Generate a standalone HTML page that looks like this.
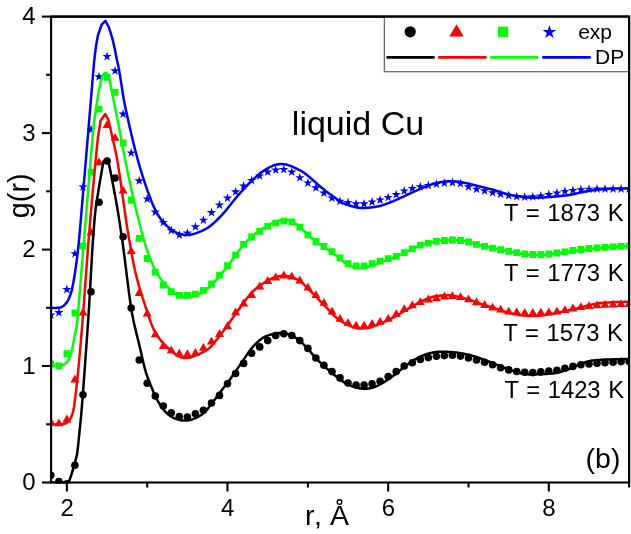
<!DOCTYPE html>
<html><head><meta charset="utf-8"><title>liquid Cu g(r)</title>
<style>
html,body{margin:0;padding:0;background:#fff;overflow:hidden}
body{width:631px;height:534px;position:relative;font-family:"Liberation Sans",sans-serif}
</style></head><body>
<svg width="631" height="534" viewBox="0 0 631 534" style="position:absolute;left:0;top:0;will-change:transform;transform:translateZ(0)">
<rect x="0" y="0" width="631" height="534" fill="#fff"/>
<defs><clipPath id="cp"><rect x="51.1" y="16.6" width="578.0" height="466.9"/></clipPath></defs>
<g clip-path="url(#cp)">
<g fill="#000000"><circle cx="50.8" cy="475.2" r="3.8"/><circle cx="58.9" cy="481.6" r="3.8"/><circle cx="66.9" cy="483.8" r="3.8"/><circle cx="74.9" cy="465.2" r="3.8"/><circle cx="83.0" cy="394.8" r="3.8"/><circle cx="91.0" cy="291.8" r="3.8"/><circle cx="99.0" cy="202.3" r="3.8"/><circle cx="107.1" cy="161.0" r="3.8"/><circle cx="115.1" cy="178.0" r="3.8"/><circle cx="123.1" cy="236.7" r="3.8"/><circle cx="131.2" cy="308.1" r="3.8"/><circle cx="139.2" cy="360.0" r="3.8"/><circle cx="147.2" cy="383.2" r="3.8"/><circle cx="155.3" cy="396.0" r="3.8"/><circle cx="163.3" cy="406.0" r="3.8"/><circle cx="171.3" cy="412.7" r="3.8"/><circle cx="179.3" cy="416.6" r="3.8"/><circle cx="187.4" cy="417.1" r="3.8"/><circle cx="195.4" cy="413.7" r="3.8"/><circle cx="203.4" cy="410.3" r="3.8"/><circle cx="211.5" cy="403.0" r="3.8"/><circle cx="219.5" cy="395.4" r="3.8"/><circle cx="227.5" cy="383.7" r="3.8"/><circle cx="235.6" cy="373.5" r="3.8"/><circle cx="243.6" cy="363.4" r="3.8"/><circle cx="251.6" cy="353.2" r="3.8"/><circle cx="259.7" cy="346.9" r="3.8"/><circle cx="267.7" cy="340.6" r="3.8"/><circle cx="275.7" cy="335.5" r="3.8"/><circle cx="283.8" cy="333.7" r="3.8"/><circle cx="291.8" cy="335.5" r="3.8"/><circle cx="299.8" cy="340.6" r="3.8"/><circle cx="307.9" cy="348.4" r="3.8"/><circle cx="315.9" cy="358.0" r="3.8"/><circle cx="323.9" cy="365.2" r="3.8"/><circle cx="332.0" cy="371.6" r="3.8"/><circle cx="340.0" cy="377.9" r="3.8"/><circle cx="348.0" cy="383.0" r="3.8"/><circle cx="356.1" cy="385.0" r="3.8"/><circle cx="364.1" cy="385.0" r="3.8"/><circle cx="372.1" cy="383.7" r="3.8"/><circle cx="380.1" cy="381.2" r="3.8"/><circle cx="388.2" cy="376.6" r="3.8"/><circle cx="396.2" cy="371.6" r="3.8"/><circle cx="404.2" cy="366.0" r="3.8"/><circle cx="412.3" cy="362.7" r="3.8"/><circle cx="420.3" cy="359.4" r="3.8"/><circle cx="428.3" cy="357.6" r="3.8"/><circle cx="436.4" cy="356.3" r="3.8"/><circle cx="444.4" cy="355.6" r="3.8"/><circle cx="452.4" cy="355.3" r="3.8"/><circle cx="460.5" cy="356.1" r="3.8"/><circle cx="468.5" cy="358.0" r="3.8"/><circle cx="476.5" cy="360.0" r="3.8"/><circle cx="484.6" cy="362.3" r="3.8"/><circle cx="492.6" cy="364.8" r="3.8"/><circle cx="500.6" cy="367.8" r="3.8"/><circle cx="508.7" cy="369.9" r="3.8"/><circle cx="516.7" cy="371.5" r="3.8"/><circle cx="524.7" cy="372.2" r="3.8"/><circle cx="532.8" cy="372.6" r="3.8"/><circle cx="540.8" cy="371.9" r="3.8"/><circle cx="548.8" cy="371.1" r="3.8"/><circle cx="556.9" cy="370.2" r="3.8"/><circle cx="564.9" cy="368.3" r="3.8"/><circle cx="572.9" cy="366.4" r="3.8"/><circle cx="580.9" cy="364.8" r="3.8"/><circle cx="589.0" cy="364.0" r="3.8"/><circle cx="597.0" cy="363.2" r="3.8"/><circle cx="605.0" cy="362.7" r="3.8"/><circle cx="613.1" cy="362.3" r="3.8"/><circle cx="621.1" cy="361.6" r="3.8"/><circle cx="629.1" cy="361.6" r="3.8"/></g>
<path fill="#ff0000" d="M50.8,417.1 L55.3,424.9 L46.3,424.9ZM58.9,418.4 L63.4,426.2 L54.4,426.2ZM66.9,414.6 L71.4,422.4 L62.4,422.4ZM74.9,374.6 L79.4,382.4 L70.4,382.4ZM83.0,307.8 L87.5,315.6 L78.5,315.6ZM91.0,227.8 L95.5,235.6 L86.5,235.6ZM99.0,157.4 L103.5,165.2 L94.5,165.2ZM107.1,120.0 L111.6,128.0 L102.6,128.0ZM115.1,132.9 L119.6,140.8 L110.6,140.8ZM123.1,185.8 L127.6,193.6 L118.6,193.6ZM131.2,246.2 L135.7,254.0 L126.7,254.0ZM139.2,288.1 L143.7,295.9 L134.7,295.9ZM147.2,308.6 L151.7,316.4 L142.7,316.4ZM155.3,329.4 L159.8,337.3 L150.8,337.3ZM163.3,341.1 L167.8,348.9 L158.8,348.9ZM171.3,345.4 L175.8,353.3 L166.8,353.3ZM179.3,348.8 L183.8,356.6 L174.8,356.6ZM187.4,349.2 L191.9,357.1 L182.9,357.1ZM195.4,348.1 L199.9,355.9 L190.9,355.9ZM203.4,342.9 L207.9,350.8 L198.9,350.8ZM211.5,336.7 L216.0,344.6 L207.0,344.6ZM219.5,329.1 L224.0,336.9 L215.0,336.9ZM227.5,321.4 L232.0,329.3 L223.0,329.3ZM235.6,307.4 L240.1,315.3 L231.1,315.3ZM243.6,298.6 L248.1,306.4 L239.1,306.4ZM251.6,290.1 L256.1,297.9 L247.1,297.9ZM259.7,281.6 L264.2,289.4 L255.2,289.4ZM267.7,276.1 L272.2,283.9 L263.2,283.9ZM275.7,272.6 L280.2,280.4 L271.2,280.4ZM283.8,270.6 L288.3,278.4 L279.3,278.4ZM291.8,271.6 L296.3,279.4 L287.3,279.4ZM299.8,275.6 L304.3,283.4 L295.3,283.4ZM307.9,282.7 L312.4,290.6 L303.4,290.6ZM315.9,290.2 L320.4,298.1 L311.4,298.1ZM323.9,297.9 L328.4,305.8 L319.4,305.8ZM332.0,306.8 L336.5,314.6 L327.5,314.6ZM340.0,313.9 L344.5,321.8 L335.5,321.8ZM348.0,318.2 L352.5,326.1 L343.5,326.1ZM356.1,320.8 L360.6,328.6 L351.6,328.6ZM364.1,320.8 L368.6,328.6 L359.6,328.6ZM372.1,318.9 L376.6,326.8 L367.6,326.8ZM380.1,316.9 L384.6,324.8 L375.6,324.8ZM388.2,313.9 L392.7,321.8 L383.7,321.8ZM396.2,309.2 L400.7,317.1 L391.7,317.1ZM404.2,304.2 L408.7,312.1 L399.7,312.1ZM412.3,300.4 L416.8,308.3 L407.8,308.3ZM420.3,297.2 L424.8,305.1 L415.8,305.1ZM428.3,294.6 L432.8,302.4 L423.8,302.4ZM436.4,293.4 L440.9,301.2 L431.9,301.2ZM444.4,291.7 L448.9,299.6 L439.9,299.6ZM452.4,291.2 L456.9,299.1 L447.9,299.1ZM460.5,292.2 L465.0,300.1 L456.0,300.1ZM468.5,294.4 L473.0,302.3 L464.0,302.3ZM476.5,297.4 L481.0,305.3 L472.0,305.3ZM484.6,300.1 L489.1,307.9 L480.1,307.9ZM492.6,302.8 L497.1,310.6 L488.1,310.6ZM500.6,304.7 L505.1,312.6 L496.1,312.6ZM508.7,306.7 L513.2,314.6 L504.2,314.6ZM516.7,307.4 L521.2,315.3 L512.2,315.3ZM524.7,307.9 L529.2,315.8 L520.2,315.8ZM532.8,307.9 L537.3,315.8 L528.3,315.8ZM540.8,307.8 L545.3,315.6 L536.3,315.6ZM548.8,307.4 L553.3,315.3 L544.3,315.3ZM556.9,306.7 L561.4,314.6 L552.4,314.6ZM564.9,305.2 L569.4,313.1 L560.4,313.1ZM572.9,303.6 L577.4,311.4 L568.4,311.4ZM580.9,302.2 L585.4,310.1 L576.4,310.1ZM589.0,301.2 L593.5,309.1 L584.5,309.1ZM597.0,300.4 L601.5,308.2 L592.5,308.2ZM605.0,299.9 L609.5,307.8 L600.5,307.8ZM613.1,299.6 L617.6,307.4 L608.6,307.4ZM621.1,299.2 L625.6,307.1 L616.6,307.1ZM629.1,299.2 L633.6,307.1 L624.6,307.1Z"/>
<path fill="#00ff00" d="M47.4,360.6h6.8v6.8h-6.8ZM55.5,362.4h6.8v6.8h-6.8ZM63.5,350.3h6.8v6.8h-6.8ZM71.5,309.6h6.8v6.8h-6.8ZM79.6,242.4h6.8v6.8h-6.8ZM87.6,168.9h6.8v6.8h-6.8ZM95.6,105.7h6.8v6.8h-6.8ZM103.7,74.0h6.8v6.8h-6.8ZM111.7,88.9h6.8v6.8h-6.8ZM119.7,139.6h6.8v6.8h-6.8ZM127.8,196.6h6.8v6.8h-6.8ZM135.8,234.9h6.8v6.8h-6.8ZM143.8,255.1h6.8v6.8h-6.8ZM151.9,268.8h6.8v6.8h-6.8ZM159.9,281.6h6.8v6.8h-6.8ZM167.9,288.2h6.8v6.8h-6.8ZM175.9,292.0h6.8v6.8h-6.8ZM184.0,292.0h6.8v6.8h-6.8ZM192.0,290.7h6.8v6.8h-6.8ZM200.0,286.9h6.8v6.8h-6.8ZM208.1,280.6h6.8v6.8h-6.8ZM216.1,271.7h6.8v6.8h-6.8ZM224.1,262.3h6.8v6.8h-6.8ZM232.2,251.4h6.8v6.8h-6.8ZM240.2,241.0h6.8v6.8h-6.8ZM248.2,233.6h6.8v6.8h-6.8ZM256.3,228.0h6.8v6.8h-6.8ZM264.3,222.9h6.8v6.8h-6.8ZM272.3,219.7h6.8v6.8h-6.8ZM280.4,217.8h6.8v6.8h-6.8ZM288.4,218.4h6.8v6.8h-6.8ZM296.4,223.8h6.8v6.8h-6.8ZM304.5,231.4h6.8v6.8h-6.8ZM312.5,238.1h6.8v6.8h-6.8ZM320.5,243.1h6.8v6.8h-6.8ZM328.6,248.2h6.8v6.8h-6.8ZM336.6,254.5h6.8v6.8h-6.8ZM344.6,260.3h6.8v6.8h-6.8ZM352.7,262.6h6.8v6.8h-6.8ZM360.7,262.6h6.8v6.8h-6.8ZM368.7,260.3h6.8v6.8h-6.8ZM376.7,257.8h6.8v6.8h-6.8ZM384.8,255.3h6.8v6.8h-6.8ZM392.8,252.9h6.8v6.8h-6.8ZM400.8,249.3h6.8v6.8h-6.8ZM408.9,245.5h6.8v6.8h-6.8ZM416.9,241.7h6.8v6.8h-6.8ZM424.9,239.7h6.8v6.8h-6.8ZM433.0,237.9h6.8v6.8h-6.8ZM441.0,237.1h6.8v6.8h-6.8ZM449.0,236.6h6.8v6.8h-6.8ZM457.1,237.1h6.8v6.8h-6.8ZM465.1,238.4h6.8v6.8h-6.8ZM473.1,240.9h6.8v6.8h-6.8ZM481.2,242.9h6.8v6.8h-6.8ZM489.2,244.7h6.8v6.8h-6.8ZM497.2,246.2h6.8v6.8h-6.8ZM505.3,248.0h6.8v6.8h-6.8ZM513.3,249.3h6.8v6.8h-6.8ZM521.3,250.6h6.8v6.8h-6.8ZM529.4,251.1h6.8v6.8h-6.8ZM537.4,251.1h6.8v6.8h-6.8ZM545.4,250.6h6.8v6.8h-6.8ZM553.5,249.6h6.8v6.8h-6.8ZM561.5,248.4h6.8v6.8h-6.8ZM569.5,247.1h6.8v6.8h-6.8ZM577.5,246.1h6.8v6.8h-6.8ZM585.6,245.1h6.8v6.8h-6.8ZM593.6,244.4h6.8v6.8h-6.8ZM601.6,243.9h6.8v6.8h-6.8ZM609.7,243.4h6.8v6.8h-6.8ZM617.7,243.0h6.8v6.8h-6.8ZM625.7,242.6h6.8v6.8h-6.8Z"/>
<path fill="#0000ff" d="M50.8,310.1 L51.9,313.5 L55.5,313.5 L52.6,315.6 L53.7,319.0 L50.8,316.9 L48.0,319.0 L49.1,315.6 L46.2,313.5 L49.7,313.5ZM58.9,307.7 L60.0,311.1 L63.5,311.1 L60.6,313.2 L61.7,316.6 L58.9,314.5 L56.0,316.6 L57.1,313.2 L54.2,311.1 L57.8,311.1ZM66.9,284.6 L68.0,288.0 L71.6,288.0 L68.7,290.1 L69.8,293.5 L66.9,291.4 L64.0,293.5 L65.1,290.1 L62.2,288.0 L65.8,288.0ZM74.9,248.8 L76.0,252.2 L79.6,252.2 L76.7,254.3 L77.8,257.7 L74.9,255.6 L72.1,257.7 L73.2,254.3 L70.3,252.2 L73.8,252.2ZM83.0,182.0 L84.1,185.4 L87.6,185.4 L84.7,187.5 L85.8,190.9 L83.0,188.8 L80.1,190.9 L81.2,187.5 L78.3,185.4 L81.9,185.4ZM91.0,124.8 L92.1,128.2 L95.7,128.2 L92.8,130.3 L93.9,133.7 L91.0,131.6 L88.1,133.7 L89.2,130.3 L86.3,128.2 L89.9,128.2ZM99.0,71.9 L100.1,75.3 L103.7,75.3 L100.8,77.4 L101.9,80.8 L99.0,78.7 L96.1,80.8 L97.2,77.4 L94.4,75.3 L97.9,75.3ZM107.1,51.6 L108.2,55.0 L111.7,55.0 L108.8,57.1 L109.9,60.5 L107.1,58.4 L104.2,60.5 L105.3,57.1 L102.4,55.0 L106.0,55.0ZM115.1,65.9 L116.2,69.3 L119.8,69.3 L116.9,71.4 L118.0,74.8 L115.1,72.7 L112.2,74.8 L113.3,71.4 L110.4,69.3 L114.0,69.3ZM123.1,109.2 L124.2,112.6 L127.8,112.6 L124.9,114.7 L126.0,118.1 L123.1,116.0 L120.2,118.1 L121.3,114.7 L118.5,112.6 L122.0,112.6ZM131.2,148.0 L132.3,151.4 L135.8,151.4 L132.9,153.5 L134.0,156.9 L131.2,154.8 L128.3,156.9 L129.4,153.5 L126.5,151.4 L130.1,151.4ZM139.2,175.9 L140.3,179.3 L143.8,179.3 L141.0,181.4 L142.1,184.8 L139.2,182.7 L136.3,184.8 L137.4,181.4 L134.5,179.3 L138.1,179.3ZM147.2,194.1 L148.3,197.5 L151.9,197.5 L149.0,199.6 L150.1,203.0 L147.2,200.9 L144.3,203.0 L145.4,199.6 L142.6,197.5 L146.1,197.5ZM155.3,207.2 L156.4,210.6 L159.9,210.6 L157.0,212.7 L158.1,216.1 L155.3,214.0 L152.4,216.1 L153.5,212.7 L150.6,210.6 L154.2,210.6ZM163.3,217.5 L164.4,220.9 L167.9,220.9 L165.1,223.0 L166.2,226.4 L163.3,224.3 L160.4,226.4 L161.5,223.0 L158.6,220.9 L162.2,220.9ZM171.3,225.5 L172.4,228.9 L176.0,228.9 L173.1,231.0 L174.2,234.4 L171.3,232.3 L168.4,234.4 L169.5,231.0 L166.7,228.9 L170.2,228.9ZM179.3,230.0 L180.4,233.4 L184.0,233.4 L181.1,235.5 L182.2,238.9 L179.3,236.8 L176.5,238.9 L177.6,235.5 L174.7,233.4 L178.2,233.4ZM187.4,228.2 L188.5,231.6 L192.0,231.6 L189.2,233.7 L190.3,237.1 L187.4,235.0 L184.5,237.1 L185.6,233.7 L182.7,231.6 L186.3,231.6ZM195.4,221.9 L196.5,225.3 L200.1,225.3 L197.2,227.4 L198.3,230.8 L195.4,228.7 L192.5,230.8 L193.6,227.4 L190.8,225.3 L194.3,225.3ZM203.4,215.3 L204.5,218.7 L208.1,218.7 L205.2,220.8 L206.3,224.2 L203.4,222.1 L200.6,224.2 L201.7,220.8 L198.8,218.7 L202.3,218.7ZM211.5,207.7 L212.6,211.1 L216.1,211.1 L213.3,213.2 L214.4,216.6 L211.5,214.5 L208.6,216.6 L209.7,213.2 L206.8,211.1 L210.4,211.1ZM219.5,200.1 L220.6,203.5 L224.2,203.5 L221.3,205.6 L222.4,209.0 L219.5,206.9 L216.6,209.0 L217.7,205.6 L214.8,203.5 L218.4,203.5ZM227.5,193.2 L228.6,196.6 L232.2,196.6 L229.3,198.7 L230.4,202.1 L227.5,200.0 L224.7,202.1 L225.8,198.7 L222.9,196.6 L226.4,196.6ZM235.6,186.9 L236.7,190.3 L240.2,190.3 L237.4,192.4 L238.5,195.8 L235.6,193.7 L232.7,195.8 L233.8,192.4 L230.9,190.3 L234.5,190.3ZM243.6,181.0 L244.7,184.4 L248.3,184.4 L245.4,186.5 L246.5,189.9 L243.6,187.8 L240.7,189.9 L241.8,186.5 L238.9,184.4 L242.5,184.4ZM251.6,175.5 L252.7,178.9 L256.3,178.9 L253.4,181.0 L254.5,184.4 L251.6,182.3 L248.8,184.4 L249.9,181.0 L247.0,178.9 L250.5,178.9ZM259.7,171.0 L260.8,174.4 L264.3,174.4 L261.4,176.5 L262.5,179.9 L259.7,177.8 L256.8,179.9 L257.9,176.5 L255.0,174.4 L258.6,174.4ZM267.7,167.2 L268.8,170.6 L272.4,170.6 L269.5,172.7 L270.6,176.1 L267.7,174.0 L264.8,176.1 L265.9,172.7 L263.0,170.6 L266.6,170.6ZM275.7,165.2 L276.8,168.6 L280.4,168.6 L277.5,170.7 L278.6,174.1 L275.7,172.0 L272.9,174.1 L274.0,170.7 L271.1,168.6 L274.6,168.6ZM283.8,164.7 L284.9,168.1 L288.4,168.1 L285.5,170.2 L286.6,173.6 L283.8,171.5 L280.9,173.6 L282.0,170.2 L279.1,168.1 L282.7,168.1ZM291.8,167.2 L292.9,170.6 L296.5,170.6 L293.6,172.7 L294.7,176.1 L291.8,174.0 L288.9,176.1 L290.0,172.7 L287.1,170.6 L290.7,170.6ZM299.8,172.8 L300.9,176.2 L304.5,176.2 L301.6,178.3 L302.7,181.7 L299.8,179.6 L296.9,181.7 L298.0,178.3 L295.2,176.2 L298.7,176.2ZM307.9,178.1 L309.0,181.5 L312.5,181.5 L309.6,183.6 L310.7,187.0 L307.9,184.9 L305.0,187.0 L306.1,183.6 L303.2,181.5 L306.8,181.5ZM315.9,182.9 L317.0,186.3 L320.6,186.3 L317.7,188.4 L318.8,191.8 L315.9,189.7 L313.0,191.8 L314.1,188.4 L311.2,186.3 L314.8,186.3ZM323.9,188.2 L325.0,191.6 L328.6,191.6 L325.7,193.7 L326.8,197.1 L323.9,195.0 L321.0,197.1 L322.1,193.7 L319.3,191.6 L322.8,191.6ZM332.0,193.1 L333.1,196.5 L336.6,196.5 L333.7,198.6 L334.8,202.0 L332.0,199.9 L329.1,202.0 L330.2,198.6 L327.3,196.5 L330.9,196.5ZM340.0,196.4 L341.1,199.8 L344.6,199.8 L341.8,201.9 L342.9,205.3 L340.0,203.2 L337.1,205.3 L338.2,201.9 L335.3,199.8 L338.9,199.8ZM348.0,197.6 L349.1,201.0 L352.7,201.0 L349.8,203.1 L350.9,206.5 L348.0,204.4 L345.1,206.5 L346.2,203.1 L343.4,201.0 L346.9,201.0ZM356.1,198.9 L357.2,202.3 L360.7,202.3 L357.8,204.4 L358.9,207.8 L356.1,205.7 L353.2,207.8 L354.3,204.4 L351.4,202.3 L355.0,202.3ZM364.1,198.9 L365.2,202.3 L368.7,202.3 L365.9,204.4 L367.0,207.8 L364.1,205.7 L361.2,207.8 L362.3,204.4 L359.4,202.3 L363.0,202.3ZM372.1,197.1 L373.2,200.5 L376.8,200.5 L373.9,202.6 L375.0,206.0 L372.1,203.9 L369.2,206.0 L370.3,202.6 L367.5,200.5 L371.0,200.5ZM380.1,195.1 L381.2,198.5 L384.8,198.5 L381.9,200.6 L383.0,204.0 L380.1,201.9 L377.3,204.0 L378.4,200.6 L375.5,198.5 L379.0,198.5ZM388.2,192.5 L389.3,195.9 L392.8,195.9 L390.0,198.0 L391.1,201.4 L388.2,199.3 L385.3,201.4 L386.4,198.0 L383.5,195.9 L387.1,195.9ZM396.2,189.7 L397.3,193.1 L400.9,193.1 L398.0,195.2 L399.1,198.6 L396.2,196.5 L393.3,198.6 L394.4,195.2 L391.6,193.1 L395.1,193.1ZM404.2,186.1 L405.3,189.5 L408.9,189.5 L406.0,191.6 L407.1,195.0 L404.2,192.9 L401.4,195.0 L402.5,191.6 L399.6,189.5 L403.1,189.5ZM412.3,183.5 L413.4,186.9 L416.9,186.9 L414.1,189.0 L415.2,192.4 L412.3,190.3 L409.4,192.4 L410.5,189.0 L407.6,186.9 L411.2,186.9ZM420.3,181.8 L421.4,185.2 L425.0,185.2 L422.1,187.3 L423.2,190.7 L420.3,188.6 L417.4,190.7 L418.5,187.3 L415.6,185.2 L419.2,185.2ZM428.3,180.5 L429.4,183.9 L433.0,183.9 L430.1,186.0 L431.2,189.4 L428.3,187.3 L425.5,189.4 L426.6,186.0 L423.7,183.9 L427.2,183.9ZM436.4,179.2 L437.5,182.6 L441.0,182.6 L438.2,184.7 L439.3,188.1 L436.4,186.0 L433.5,188.1 L434.6,184.7 L431.7,182.6 L435.3,182.6ZM444.4,178.2 L445.5,181.6 L449.1,181.6 L446.2,183.7 L447.3,187.1 L444.4,185.0 L441.5,187.1 L442.6,183.7 L439.7,181.6 L443.3,181.6ZM452.4,177.6 L453.5,181.0 L457.1,181.0 L454.2,183.1 L455.3,186.5 L452.4,184.4 L449.6,186.5 L450.7,183.1 L447.8,181.0 L451.3,181.0ZM460.5,178.7 L461.6,182.1 L465.1,182.1 L462.2,184.2 L463.3,187.6 L460.5,185.5 L457.6,187.6 L458.7,184.2 L455.8,182.1 L459.4,182.1ZM468.5,181.9 L469.6,185.3 L473.2,185.3 L470.3,187.4 L471.4,190.8 L468.5,188.7 L465.6,190.8 L466.7,187.4 L463.8,185.3 L467.4,185.3ZM476.5,184.3 L477.6,187.7 L481.2,187.7 L478.3,189.8 L479.4,193.2 L476.5,191.1 L473.7,193.2 L474.8,189.8 L471.9,187.7 L475.4,187.7ZM484.6,185.9 L485.7,189.3 L489.2,189.3 L486.3,191.4 L487.4,194.8 L484.6,192.7 L481.7,194.8 L482.8,191.4 L479.9,189.3 L483.5,189.3ZM492.6,187.8 L493.7,191.2 L497.3,191.2 L494.4,193.3 L495.5,196.7 L492.6,194.6 L489.7,196.7 L490.8,193.3 L487.9,191.2 L491.5,191.2ZM500.6,189.3 L501.7,192.7 L505.3,192.7 L502.4,194.8 L503.5,198.2 L500.6,196.1 L497.7,198.2 L498.8,194.8 L496.0,192.7 L499.5,192.7ZM508.7,190.6 L509.8,194.0 L513.3,194.0 L510.4,196.1 L511.5,199.5 L508.7,197.4 L505.8,199.5 L506.9,196.1 L504.0,194.0 L507.6,194.0ZM516.7,191.7 L517.8,195.1 L521.4,195.1 L518.5,197.2 L519.6,200.6 L516.7,198.5 L513.8,200.6 L514.9,197.2 L512.0,195.1 L515.6,195.1ZM524.7,192.2 L525.8,195.6 L529.4,195.6 L526.5,197.7 L527.6,201.1 L524.7,199.0 L521.8,201.1 L522.9,197.7 L520.1,195.6 L523.6,195.6ZM532.8,191.9 L533.9,195.3 L537.4,195.3 L534.5,197.4 L535.6,200.8 L532.8,198.7 L529.9,200.8 L531.0,197.4 L528.1,195.3 L531.7,195.3ZM540.8,191.1 L541.9,194.5 L545.4,194.5 L542.6,196.6 L543.7,200.0 L540.8,197.9 L537.9,200.0 L539.0,196.6 L536.1,194.5 L539.7,194.5ZM548.8,189.5 L549.9,192.9 L553.5,192.9 L550.6,195.0 L551.7,198.4 L548.8,196.3 L545.9,198.4 L547.0,195.0 L544.2,192.9 L547.7,192.9ZM556.9,188.0 L558.0,191.4 L561.5,191.4 L558.6,193.5 L559.7,196.9 L556.9,194.8 L554.0,196.9 L555.1,193.5 L552.2,191.4 L555.8,191.4ZM564.9,186.5 L566.0,189.9 L569.5,189.9 L566.7,192.0 L567.8,195.4 L564.9,193.3 L562.0,195.4 L563.1,192.0 L560.2,189.9 L563.8,189.9ZM572.9,185.5 L574.0,188.9 L577.6,188.9 L574.7,191.0 L575.8,194.4 L572.9,192.3 L570.0,194.4 L571.1,191.0 L568.3,188.9 L571.8,188.9ZM580.9,184.8 L582.0,188.2 L585.6,188.2 L582.7,190.3 L583.8,193.7 L580.9,191.6 L578.1,193.7 L579.2,190.3 L576.3,188.2 L579.8,188.2ZM589.0,184.3 L590.1,187.7 L593.6,187.7 L590.8,189.8 L591.9,193.2 L589.0,191.1 L586.1,193.2 L587.2,189.8 L584.3,187.7 L587.9,187.7ZM597.0,184.0 L598.1,187.4 L601.7,187.4 L598.8,189.5 L599.9,192.9 L597.0,190.8 L594.1,192.9 L595.2,189.5 L592.4,187.4 L595.9,187.4ZM605.0,184.0 L606.1,187.4 L609.7,187.4 L606.8,189.5 L607.9,192.9 L605.0,190.8 L602.2,192.9 L603.3,189.5 L600.4,187.4 L603.9,187.4ZM613.1,184.0 L614.2,187.4 L617.7,187.4 L614.9,189.5 L616.0,192.9 L613.1,190.8 L610.2,192.9 L611.3,189.5 L608.4,187.4 L612.0,187.4ZM621.1,184.0 L622.2,187.4 L625.8,187.4 L622.9,189.5 L624.0,192.9 L621.1,190.8 L618.2,192.9 L619.3,189.5 L616.4,187.4 L620.0,187.4ZM629.1,184.0 L630.2,187.4 L633.8,187.4 L630.9,189.5 L632.0,192.9 L629.1,190.8 L626.3,192.9 L627.4,189.5 L624.5,187.4 L628.0,187.4Z"/>
<path d="M51.0,482.4 L52.0,482.4 L53.0,482.4 L54.0,482.4 L55.0,482.4 L56.0,482.4 L57.0,482.4 L58.0,482.4 L59.0,482.4 L60.0,482.4 L61.0,482.4 L62.0,482.4 L63.0,482.4 L64.0,482.4 L65.0,482.4 L66.0,482.4 L67.0,482.4 L68.0,482.2 L69.0,481.2 L70.0,478.9 L71.0,475.9 L72.0,472.6 L73.0,469.5 L74.0,466.0 L75.0,462.4 L76.0,458.7 L77.0,454.5 L78.0,446.8 L79.0,436.8 L80.0,426.8 L81.0,416.9 L82.0,405.1 L83.0,392.1 L84.0,378.7 L85.0,365.1 L86.0,351.2 L87.0,337.1 L88.0,322.9 L89.0,307.7 L90.0,290.6 L91.0,272.7 L92.0,255.2 L93.0,239.3 L94.0,225.9 L95.0,214.7 L96.0,205.6 L100.2,180.0 L103.4,161.5 L105.0,160.3 L107.4,160.6 L108.6,162.2 L110.0,169.1 L114.0,189.8 L115.0,195.1 L116.0,200.6 L117.0,206.3 L118.0,212.3 L119.0,218.6 L120.0,225.1 L121.0,231.7 L122.0,238.4 L123.0,245.5 L124.0,253.1 L125.0,261.0 L126.0,269.0 L127.0,277.1 L128.0,285.1 L129.0,292.9 L130.0,300.2 L131.0,307.1 L132.0,313.2 L133.0,318.6 L134.0,323.2 L135.0,327.4 L136.0,331.6 L137.0,335.6 L138.0,339.6 L139.0,343.7 L140.0,348.0 L141.0,352.4 L142.0,356.8 L143.0,361.1 L144.0,365.3 L145.0,369.2 L146.0,372.6 L147.0,375.6 L148.0,378.4 L149.0,381.0 L150.0,383.5 L151.0,386.1 L152.0,388.5 L153.0,390.9 L154.0,393.3 L155.0,395.5 L156.0,397.5 L157.0,399.5 L158.0,401.3 L159.0,403.0 L160.0,404.7 L161.0,406.2 L162.0,407.6 L163.0,409.0 L164.0,410.2 L165.0,411.3 L166.0,412.4 L167.0,413.3 L168.0,414.2 L169.0,415.1 L170.0,415.8 L171.0,416.5 L172.0,417.1 L173.0,417.6 L174.0,418.1 L175.0,418.5 L176.0,418.9 L177.0,419.2 L178.0,419.6 L179.0,419.8 L180.0,420.1 L181.0,420.3 L182.0,420.4 L183.0,420.5 L184.0,420.6 L185.0,420.6 L186.0,420.6 L187.0,420.5 L188.0,420.4 L189.0,420.2 L190.0,420.0 L191.0,419.8 L192.0,419.5 L193.0,419.1 L194.0,418.7 L195.0,418.3 L196.0,417.9 L197.0,417.3 L198.0,416.8 L199.0,416.3 L200.0,415.7 L201.0,415.1 L202.0,414.4 L203.0,413.6 L204.0,412.8 L205.0,411.9 L206.0,410.8 L207.0,409.7 L208.0,408.4 L209.0,407.1 L210.0,405.8 L211.0,404.5 L212.0,403.2 L213.0,401.9 L214.0,400.5 L215.0,399.2 L216.0,397.9 L217.0,396.5 L218.0,395.2 L219.0,393.9 L220.0,392.5 L221.0,391.2 L222.0,389.8 L223.0,388.5 L224.0,387.2 L225.0,385.9 L226.0,384.7 L227.0,383.4 L228.0,382.1 L229.0,380.8 L230.0,379.4 L231.0,378.0 L232.0,376.6 L233.0,375.2 L234.0,373.7 L235.0,372.3 L236.0,370.8 L237.0,369.4 L238.0,367.9 L239.0,366.4 L240.0,365.0 L241.0,363.5 L242.0,362.0 L243.0,360.6 L244.0,359.1 L245.0,357.6 L246.0,356.1 L247.0,354.6 L248.0,353.2 L249.0,351.7 L250.0,350.4 L251.0,349.1 L252.0,347.9 L253.0,346.7 L254.0,345.6 L255.0,344.6 L256.0,343.6 L257.0,342.6 L258.0,341.7 L259.0,340.8 L260.0,340.0 L261.0,339.2 L262.0,338.5 L263.0,337.8 L264.0,337.2 L265.0,336.7 L266.0,336.2 L267.0,335.8 L268.0,335.4 L269.0,335.1 L270.0,334.7 L271.0,334.5 L272.0,334.2 L273.0,334.0 L274.0,333.7 L275.0,333.5 L276.0,333.4 L277.0,333.2 L278.0,333.1 L279.0,333.0 L280.0,333.0 L281.0,333.0 L282.0,333.0 L283.0,333.1 L284.0,333.2 L285.0,333.4 L286.0,333.6 L287.0,333.8 L288.0,334.1 L289.0,334.5 L290.0,334.9 L291.0,335.3 L292.0,335.7 L293.0,336.2 L294.0,336.8 L295.0,337.4 L296.0,338.0 L297.0,338.7 L298.0,339.4 L299.0,340.2 L300.0,341.1 L301.0,342.0 L302.0,342.9 L303.0,343.8 L304.0,344.8 L305.0,345.8 L306.0,346.8 L307.0,347.8 L308.0,348.9 L309.0,350.0 L310.0,351.2 L311.0,352.4 L312.0,353.7 L313.0,354.9 L314.0,356.1 L315.0,357.2 L316.0,358.3 L317.0,359.3 L318.0,360.3 L319.0,361.3 L320.0,362.3 L321.0,363.2 L322.0,364.2 L323.0,365.1 L324.0,366.0 L325.0,366.9 L326.0,367.8 L327.0,368.7 L328.0,369.5 L329.0,370.4 L330.0,371.3 L331.0,372.1 L332.0,373.0 L333.0,373.8 L334.0,374.7 L335.0,375.5 L336.0,376.3 L337.0,377.1 L338.0,377.9 L339.0,378.7 L340.0,379.5 L341.0,380.3 L342.0,381.0 L343.0,381.6 L344.0,382.3 L345.0,382.9 L346.0,383.4 L347.0,384.0 L348.0,384.5 L349.0,385.0 L350.0,385.4 L351.0,385.9 L352.0,386.2 L353.0,386.6 L354.0,386.9 L355.0,387.2 L356.0,387.5 L357.0,387.8 L358.0,388.0 L359.0,388.2 L360.0,388.4 L361.0,388.5 L362.0,388.6 L363.0,388.7 L364.0,388.8 L365.0,388.8 L366.0,388.8 L367.0,388.7 L368.0,388.6 L369.0,388.5 L370.0,388.3 L371.0,388.1 L372.0,387.8 L373.0,387.5 L374.0,387.2 L375.0,386.8 L376.0,386.4 L377.0,386.0 L378.0,385.5 L379.0,385.0 L380.0,384.4 L381.0,383.9 L382.0,383.3 L383.0,382.7 L384.0,382.1 L385.0,381.5 L386.0,380.8 L387.0,380.2 L388.0,379.5 L389.0,378.8 L390.0,378.1 L391.0,377.4 L392.0,376.7 L393.0,375.9 L394.0,375.2 L395.0,374.4 L396.0,373.7 L397.0,372.9 L398.0,372.0 L399.0,371.2 L400.0,370.4 L401.0,369.6 L402.0,368.8 L403.0,368.0 L404.0,367.2 L405.0,366.4 L406.0,365.7 L407.0,364.9 L408.0,364.2 L409.0,363.4 L410.0,362.7 L411.0,362.0 L412.0,361.3 L413.0,360.7 L414.0,360.0 L415.0,359.4 L416.0,358.9 L417.0,358.3 L418.0,357.8 L419.0,357.3 L420.0,356.8 L421.0,356.3 L422.0,355.9 L423.0,355.5 L424.0,355.1 L425.0,354.7 L426.0,354.3 L427.0,354.0 L428.0,353.7 L429.0,353.4 L430.0,353.1 L431.0,352.9 L432.0,352.7 L433.0,352.5 L434.0,352.3 L435.0,352.2 L436.0,352.0 L437.0,351.9 L438.0,351.8 L439.0,351.7 L440.0,351.7 L441.0,351.7 L442.0,351.7 L443.0,351.7 L444.0,351.7 L445.0,351.7 L446.0,351.8 L447.0,351.8 L448.0,351.9 L449.0,351.9 L450.0,352.0 L451.0,352.1 L452.0,352.1 L453.0,352.2 L454.0,352.3 L455.0,352.4 L456.0,352.5 L457.0,352.6 L458.0,352.8 L459.0,352.9 L460.0,353.1 L461.0,353.3 L462.0,353.4 L463.0,353.6 L464.0,353.8 L465.0,354.0 L466.0,354.2 L467.0,354.4 L468.0,354.6 L469.0,354.8 L470.0,355.1 L471.0,355.3 L472.0,355.6 L473.0,355.9 L474.0,356.2 L475.0,356.5 L476.0,356.8 L477.0,357.1 L478.0,357.5 L479.0,357.8 L480.0,358.2 L481.0,358.6 L482.0,358.9 L483.0,359.3 L484.0,359.7 L485.0,360.1 L486.0,360.5 L487.0,360.8 L488.0,361.2 L489.0,361.6 L490.0,362.0 L491.0,362.4 L492.0,362.8 L493.0,363.2 L494.0,363.6 L495.0,364.0 L496.0,364.4 L497.0,364.8 L498.0,365.2 L499.0,365.6 L500.0,366.0 L501.0,366.4 L502.0,366.8 L503.0,367.2 L504.0,367.6 L505.0,368.0 L506.0,368.4 L507.0,368.8 L508.0,369.1 L509.0,369.5 L510.0,369.9 L511.0,370.2 L512.0,370.6 L513.0,370.9 L514.0,371.2 L515.0,371.6 L516.0,371.9 L517.0,372.2 L518.0,372.5 L519.0,372.8 L520.0,373.0 L521.0,373.3 L522.0,373.5 L523.0,373.7 L524.0,373.9 L525.0,374.0 L526.0,374.1 L527.0,374.2 L528.0,374.3 L529.0,374.4 L530.0,374.4 L531.0,374.4 L532.0,374.4 L533.0,374.4 L534.0,374.4 L535.0,374.4 L536.0,374.4 L537.0,374.3 L538.0,374.3 L539.0,374.3 L540.0,374.2 L541.0,374.2 L542.0,374.2 L543.0,374.1 L544.0,374.1 L545.0,374.0 L546.0,373.9 L547.0,373.9 L548.0,373.8 L549.0,373.8 L550.0,373.7 L551.0,373.6 L552.0,373.5 L553.0,373.4 L554.0,373.3 L555.0,373.2 L556.0,373.0 L557.0,372.8 L558.0,372.6 L559.0,372.4 L560.0,372.1 L561.0,371.8 L562.0,371.5 L563.0,371.2 L564.0,370.9 L565.0,370.6 L566.0,370.2 L567.0,369.9 L568.0,369.5 L569.0,369.1 L570.0,368.7 L571.0,368.3 L572.0,367.8 L573.0,367.3 L574.0,366.9 L575.0,366.4 L576.0,365.9 L577.0,365.4 L578.0,365.0 L579.0,364.6 L580.0,364.2 L581.0,363.7 L582.0,363.3 L583.0,363.0 L584.0,362.6 L585.0,362.3 L586.0,361.9 L587.0,361.7 L588.0,361.4 L589.0,361.2 L590.0,361.0 L591.0,360.8 L592.0,360.6 L593.0,360.5 L594.0,360.4 L595.0,360.3 L596.0,360.2 L597.0,360.1 L598.0,360.0 L599.0,360.0 L600.0,359.9 L601.0,359.8 L602.0,359.7 L603.0,359.7 L604.0,359.6 L605.0,359.6 L606.0,359.6 L607.0,359.5 L608.0,359.5 L609.0,359.5 L610.0,359.4 L611.0,359.4 L612.0,359.4 L613.0,359.3 L614.0,359.3 L615.0,359.3 L616.0,359.2 L617.0,359.2 L618.0,359.2 L619.0,359.2 L620.0,359.2 L621.0,359.1 L622.0,359.1 L623.0,359.1 L624.0,359.1 L625.0,359.1 L626.0,359.0 L627.0,359.0 L628.0,359.0 L629.0,359.0 L629.1,359.0" fill="none" stroke="#000000" stroke-width="2.5" stroke-linejoin="round"/>
<path d="M51.0,424.3 L52.0,424.4 L53.0,424.4 L54.0,424.5 L55.0,424.5 L56.0,424.5 L57.0,424.5 L58.0,424.4 L59.0,424.4 L60.0,424.4 L61.0,424.3 L62.0,424.2 L63.0,424.0 L64.0,423.8 L65.0,423.5 L66.0,423.1 L67.0,422.5 L68.0,421.7 L69.0,420.8 L70.0,419.5 L71.0,417.5 L72.0,415.1 L73.0,412.1 L74.0,407.0 L75.0,399.7 L76.0,391.4 L77.0,382.3 L78.0,372.5 L79.0,362.1 L80.0,351.0 L81.0,339.4 L82.0,327.4 L83.0,315.0 L84.0,301.8 L85.0,288.3 L86.0,274.5 L87.0,260.9 L88.0,247.6 L89.0,235.0 L90.0,223.0 L91.0,211.3 L92.0,199.9 L93.0,188.8 L94.0,177.8 L95.0,167.0 L96.0,156.4 L97.0,146.3 L98.0,136.9 L100.6,120.7 L105.2,114.0 L108.3,119.5 L110.0,126.8 L111.0,131.3 L112.0,135.8 L113.0,140.2 L114.0,144.4 L115.0,148.7 L116.0,153.4 L117.0,158.7 L118.0,164.6 L119.0,170.9 L120.0,177.5 L121.0,184.5 L122.0,191.6 L123.0,198.7 L124.0,205.9 L125.0,213.0 L126.0,219.8 L127.0,226.4 L128.0,232.6 L129.0,238.5 L130.0,244.3 L131.0,250.0 L132.0,255.5 L133.0,260.9 L134.0,265.9 L135.0,270.6 L136.0,274.8 L137.0,278.7 L138.0,282.4 L139.0,286.0 L140.0,289.4 L141.0,292.8 L142.0,296.0 L143.0,299.1 L144.0,302.2 L145.0,305.2 L146.0,308.2 L147.0,311.2 L148.0,314.3 L149.0,317.3 L150.0,320.2 L151.0,323.0 L152.0,325.6 L153.0,328.0 L154.0,330.1 L155.0,332.0 L156.0,333.7 L157.0,335.3 L158.0,336.8 L159.0,338.1 L160.0,339.4 L161.0,340.7 L162.0,341.8 L163.0,342.9 L164.0,344.0 L165.0,345.0 L166.0,346.0 L167.0,347.0 L168.0,348.0 L169.0,348.9 L170.0,349.9 L171.0,350.8 L172.0,351.7 L173.0,352.5 L174.0,353.3 L175.0,354.0 L176.0,354.7 L177.0,355.3 L178.0,355.8 L179.0,356.3 L180.0,356.8 L181.0,357.2 L182.0,357.5 L183.0,357.7 L184.0,357.9 L185.0,358.0 L186.0,358.0 L187.0,358.0 L188.0,357.8 L189.0,357.7 L190.0,357.5 L191.0,357.2 L192.0,356.9 L193.0,356.6 L194.0,356.2 L195.0,355.8 L196.0,355.4 L197.0,355.0 L198.0,354.5 L199.0,354.0 L200.0,353.6 L201.0,353.2 L202.0,352.7 L203.0,352.2 L204.0,351.7 L205.0,351.2 L206.0,350.6 L207.0,349.9 L208.0,349.2 L209.0,348.4 L210.0,347.5 L211.0,346.5 L212.0,345.4 L213.0,344.2 L214.0,343.0 L215.0,341.7 L216.0,340.4 L217.0,339.2 L218.0,337.9 L219.0,336.6 L220.0,335.4 L221.0,334.1 L222.0,332.8 L223.0,331.5 L224.0,330.1 L225.0,328.7 L226.0,327.3 L227.0,325.9 L228.0,324.5 L229.0,323.1 L230.0,321.7 L231.0,320.3 L232.0,318.9 L233.0,317.5 L234.0,316.1 L235.0,314.7 L236.0,313.3 L237.0,311.9 L238.0,310.5 L239.0,309.1 L240.0,307.7 L241.0,306.3 L242.0,304.9 L243.0,303.5 L244.0,302.1 L245.0,300.8 L246.0,299.4 L247.0,298.2 L248.0,296.9 L249.0,295.8 L250.0,294.6 L251.0,293.5 L252.0,292.4 L253.0,291.4 L254.0,290.4 L255.0,289.5 L256.0,288.6 L257.0,287.8 L258.0,287.0 L259.0,286.2 L260.0,285.5 L261.0,284.8 L262.0,284.1 L263.0,283.5 L264.0,282.8 L265.0,282.2 L266.0,281.6 L267.0,281.0 L268.0,280.4 L269.0,279.9 L270.0,279.3 L271.0,278.9 L272.0,278.4 L273.0,278.0 L274.0,277.6 L275.0,277.3 L276.0,277.0 L277.0,276.7 L278.0,276.5 L279.0,276.3 L280.0,276.1 L281.0,276.0 L282.0,275.9 L283.0,275.9 L284.0,275.9 L285.0,275.9 L286.0,276.0 L287.0,276.1 L288.0,276.3 L289.0,276.5 L290.0,276.8 L291.0,277.1 L292.0,277.4 L293.0,277.8 L294.0,278.2 L295.0,278.5 L296.0,278.9 L297.0,279.4 L298.0,279.9 L299.0,280.4 L300.0,281.1 L301.0,281.8 L302.0,282.7 L303.0,283.6 L304.0,284.6 L305.0,285.6 L306.0,286.5 L307.0,287.5 L308.0,288.5 L309.0,289.5 L310.0,290.5 L311.0,291.5 L312.0,292.5 L313.0,293.6 L314.0,294.6 L315.0,295.6 L316.0,296.7 L317.0,297.7 L318.0,298.7 L319.0,299.8 L320.0,300.8 L321.0,301.9 L322.0,302.9 L323.0,304.0 L324.0,305.0 L325.0,306.1 L326.0,307.1 L327.0,308.2 L328.0,309.2 L329.0,310.3 L330.0,311.4 L331.0,312.4 L332.0,313.5 L333.0,314.5 L334.0,315.5 L335.0,316.4 L336.0,317.3 L337.0,318.2 L338.0,319.0 L339.0,319.8 L340.0,320.5 L341.0,321.2 L342.0,321.8 L343.0,322.4 L344.0,323.0 L345.0,323.5 L346.0,324.0 L347.0,324.5 L348.0,325.0 L349.0,325.5 L350.0,325.9 L351.0,326.3 L352.0,326.7 L353.0,327.1 L354.0,327.4 L355.0,327.7 L356.0,328.0 L357.0,328.2 L358.0,328.4 L359.0,328.5 L360.0,328.5 L361.0,328.5 L362.0,328.5 L363.0,328.4 L364.0,328.4 L365.0,328.3 L366.0,328.3 L367.0,328.2 L368.0,328.0 L369.0,327.8 L370.0,327.6 L371.0,327.3 L372.0,327.0 L373.0,326.6 L374.0,326.3 L375.0,325.9 L376.0,325.5 L377.0,325.1 L378.0,324.7 L379.0,324.2 L380.0,323.8 L381.0,323.4 L382.0,322.9 L383.0,322.5 L384.0,322.0 L385.0,321.6 L386.0,321.1 L387.0,320.7 L388.0,320.2 L389.0,319.7 L390.0,319.2 L391.0,318.7 L392.0,318.2 L393.0,317.7 L394.0,317.1 L395.0,316.6 L396.0,316.0 L397.0,315.4 L398.0,314.8 L399.0,314.3 L400.0,313.7 L401.0,313.1 L402.0,312.5 L403.0,311.9 L404.0,311.3 L405.0,310.7 L406.0,310.1 L407.0,309.5 L408.0,308.9 L409.0,308.3 L410.0,307.7 L411.0,307.1 L412.0,306.5 L413.0,305.9 L414.0,305.3 L415.0,304.8 L416.0,304.2 L417.0,303.6 L418.0,303.1 L419.0,302.5 L420.0,302.0 L421.0,301.5 L422.0,301.0 L423.0,300.5 L424.0,300.1 L425.0,299.6 L426.0,299.2 L427.0,298.8 L428.0,298.4 L429.0,298.0 L430.0,297.6 L431.0,297.3 L432.0,297.0 L433.0,296.7 L434.0,296.5 L435.0,296.3 L436.0,296.1 L437.0,296.0 L438.0,295.9 L439.0,295.8 L440.0,295.7 L441.0,295.6 L442.0,295.5 L443.0,295.4 L444.0,295.4 L445.0,295.3 L446.0,295.3 L447.0,295.3 L448.0,295.3 L449.0,295.3 L450.0,295.4 L451.0,295.5 L452.0,295.6 L453.0,295.8 L454.0,295.9 L455.0,296.1 L456.0,296.3 L457.0,296.6 L458.0,296.8 L459.0,297.0 L460.0,297.2 L461.0,297.5 L462.0,297.7 L463.0,298.0 L464.0,298.3 L465.0,298.5 L466.0,298.8 L467.0,299.1 L468.0,299.4 L469.0,299.7 L470.0,300.0 L471.0,300.4 L472.0,300.7 L473.0,301.0 L474.0,301.4 L475.0,301.7 L476.0,302.1 L477.0,302.4 L478.0,302.8 L479.0,303.1 L480.0,303.4 L481.0,303.8 L482.0,304.1 L483.0,304.5 L484.0,304.8 L485.0,305.1 L486.0,305.5 L487.0,305.8 L488.0,306.2 L489.0,306.5 L490.0,306.8 L491.0,307.1 L492.0,307.4 L493.0,307.7 L494.0,308.0 L495.0,308.3 L496.0,308.6 L497.0,308.9 L498.0,309.3 L499.0,309.7 L500.0,310.1 L501.0,310.4 L502.0,310.8 L503.0,311.2 L504.0,311.5 L505.0,311.8 L506.0,312.1 L507.0,312.3 L508.0,312.6 L509.0,312.8 L510.0,313.1 L511.0,313.3 L512.0,313.5 L513.0,313.7 L514.0,313.9 L515.0,314.1 L516.0,314.3 L517.0,314.5 L518.0,314.7 L519.0,314.9 L520.0,315.0 L521.0,315.2 L522.0,315.3 L523.0,315.4 L524.0,315.6 L525.0,315.7 L526.0,315.8 L527.0,315.8 L528.0,315.9 L529.0,315.9 L530.0,316.0 L531.0,316.0 L532.0,316.0 L533.0,316.0 L534.0,316.0 L535.0,316.0 L536.0,315.9 L537.0,315.9 L538.0,315.8 L539.0,315.7 L540.0,315.6 L541.0,315.5 L542.0,315.4 L543.0,315.3 L544.0,315.2 L545.0,315.0 L546.0,314.8 L547.0,314.7 L548.0,314.5 L549.0,314.3 L550.0,314.2 L551.0,314.0 L552.0,313.8 L553.0,313.7 L554.0,313.5 L555.0,313.3 L556.0,313.1 L557.0,312.9 L558.0,312.7 L559.0,312.5 L560.0,312.3 L561.0,312.1 L562.0,311.9 L563.0,311.6 L564.0,311.4 L565.0,311.2 L566.0,310.9 L567.0,310.7 L568.0,310.5 L569.0,310.2 L570.0,310.0 L571.0,309.8 L572.0,309.5 L573.0,309.3 L574.0,309.1 L575.0,308.8 L576.0,308.6 L577.0,308.4 L578.0,308.1 L579.0,307.9 L580.0,307.6 L581.0,307.4 L582.0,307.1 L583.0,306.9 L584.0,306.6 L585.0,306.3 L586.0,306.1 L587.0,305.8 L588.0,305.6 L589.0,305.3 L590.0,305.1 L591.0,304.8 L592.0,304.6 L593.0,304.3 L594.0,304.1 L595.0,303.9 L596.0,303.7 L597.0,303.5 L598.0,303.3 L599.0,303.2 L600.0,303.1 L601.0,303.0 L602.0,302.9 L603.0,302.8 L604.0,302.7 L605.0,302.7 L606.0,302.6 L607.0,302.6 L608.0,302.5 L609.0,302.5 L610.0,302.4 L611.0,302.3 L612.0,302.3 L613.0,302.2 L614.0,302.2 L615.0,302.1 L616.0,302.1 L617.0,302.1 L618.0,302.0 L619.0,302.0 L620.0,301.9 L621.0,301.9 L622.0,301.9 L623.0,301.9 L624.0,301.8 L625.0,301.8 L626.0,301.8 L627.0,301.8 L628.0,301.8 L629.0,301.8 L629.1,301.8" fill="none" stroke="#ff0000" stroke-width="2.5" stroke-linejoin="round"/>
<path d="M51.0,365.0 L52.0,365.2 L53.0,365.4 L54.0,365.5 L55.0,365.5 L56.0,365.6 L57.0,365.6 L58.0,365.6 L59.0,365.5 L60.0,365.5 L61.0,365.3 L62.0,365.0 L63.0,364.7 L64.0,364.3 L65.0,363.8 L66.0,362.9 L67.0,361.9 L68.0,360.8 L69.0,359.1 L70.0,356.8 L71.0,353.7 L72.0,349.7 L73.0,344.8 L74.0,339.6 L75.0,334.4 L76.0,330.2 L77.0,323.9 L78.0,313.2 L79.0,301.5 L80.0,289.3 L81.0,277.0 L82.0,264.5 L83.0,252.1 L84.0,239.8 L85.0,227.8 L86.0,215.8 L87.0,203.9 L88.0,191.9 L89.0,179.9 L90.0,168.0 L91.0,156.0 L92.0,144.0 L93.0,132.1 L94.0,122.1 L95.0,115.4 L96.0,108.7 L97.0,102.0 L98.0,95.6 L99.0,89.9 L100.0,85.1 L101.0,80.9 L102.0,77.5 L103.0,75.1 L104.0,73.7 L105.0,73.0 L106.0,73.1 L107.0,73.6 L108.0,75.1 L109.0,77.9 L110.0,82.4 L111.0,87.3 L112.0,92.3 L113.0,97.3 L114.0,102.3 L115.0,107.3 L116.0,112.3 L117.0,117.3 L118.0,122.2 L119.0,127.2 L120.0,132.3 L121.0,137.8 L122.0,143.5 L123.0,149.0 L124.0,154.1 L125.0,159.2 L126.0,164.1 L127.0,169.0 L128.0,173.8 L129.0,178.5 L130.0,183.1 L131.0,187.7 L132.0,192.1 L133.0,196.5 L134.0,200.9 L135.0,205.1 L136.0,209.3 L137.0,213.4 L138.0,217.5 L139.0,221.5 L140.0,225.4 L141.0,229.3 L142.0,233.1 L143.0,236.9 L144.0,240.4 L145.0,243.8 L146.0,247.1 L147.0,250.1 L148.0,253.0 L149.0,255.7 L150.0,258.3 L151.0,260.7 L152.0,263.1 L153.0,265.5 L154.0,267.7 L155.0,269.7 L156.0,271.7 L157.0,273.4 L158.0,275.0 L159.0,276.5 L160.0,277.9 L161.0,279.2 L162.0,280.5 L163.0,281.8 L164.0,283.0 L165.0,284.1 L166.0,285.2 L167.0,286.3 L168.0,287.3 L169.0,288.3 L170.0,289.3 L171.0,290.2 L172.0,291.1 L173.0,292.0 L174.0,292.8 L175.0,293.5 L176.0,294.2 L177.0,294.8 L178.0,295.3 L179.0,295.8 L180.0,296.2 L181.0,296.6 L182.0,296.9 L183.0,297.1 L184.0,297.2 L185.0,297.3 L186.0,297.3 L187.0,297.3 L188.0,297.2 L189.0,297.1 L190.0,297.0 L191.0,296.8 L192.0,296.6 L193.0,296.3 L194.0,296.0 L195.0,295.7 L196.0,295.3 L197.0,294.9 L198.0,294.5 L199.0,294.1 L200.0,293.6 L201.0,293.1 L202.0,292.5 L203.0,291.9 L204.0,291.2 L205.0,290.5 L206.0,289.8 L207.0,289.0 L208.0,288.2 L209.0,287.4 L210.0,286.5 L211.0,285.5 L212.0,284.5 L213.0,283.4 L214.0,282.4 L215.0,281.3 L216.0,280.2 L217.0,279.0 L218.0,277.9 L219.0,276.7 L220.0,275.5 L221.0,274.3 L222.0,273.1 L223.0,271.9 L224.0,270.7 L225.0,269.5 L226.0,268.2 L227.0,266.9 L228.0,265.6 L229.0,264.3 L230.0,262.9 L231.0,261.5 L232.0,260.0 L233.0,258.6 L234.0,257.2 L235.0,255.8 L236.0,254.5 L237.0,253.1 L238.0,251.8 L239.0,250.5 L240.0,249.2 L241.0,248.0 L242.0,246.7 L243.0,245.5 L244.0,244.3 L245.0,243.2 L246.0,242.1 L247.0,241.0 L248.0,240.0 L249.0,239.0 L250.0,238.1 L251.0,237.2 L252.0,236.3 L253.0,235.5 L254.0,234.7 L255.0,233.9 L256.0,233.1 L257.0,232.4 L258.0,231.6 L259.0,230.9 L260.0,230.2 L261.0,229.5 L262.0,228.9 L263.0,228.2 L264.0,227.6 L265.0,227.0 L266.0,226.3 L267.0,225.8 L268.0,225.2 L269.0,224.6 L270.0,224.1 L271.0,223.7 L272.0,223.2 L273.0,222.8 L274.0,222.4 L275.0,222.0 L276.0,221.6 L277.0,221.2 L278.0,220.9 L279.0,220.7 L280.0,220.4 L281.0,220.2 L282.0,220.1 L283.0,219.9 L284.0,219.8 L285.0,219.7 L286.0,219.7 L287.0,219.7 L288.0,219.9 L289.0,220.1 L290.0,220.4 L291.0,220.8 L292.0,221.4 L293.0,222.0 L294.0,222.6 L295.0,223.3 L296.0,224.0 L297.0,224.8 L298.0,225.6 L299.0,226.5 L300.0,227.4 L301.0,228.3 L302.0,229.2 L303.0,230.1 L304.0,231.0 L305.0,232.0 L306.0,232.9 L307.0,233.8 L308.0,234.7 L309.0,235.6 L310.0,236.5 L311.0,237.4 L312.0,238.3 L313.0,239.2 L314.0,240.1 L315.0,240.9 L316.0,241.7 L317.0,242.4 L318.0,243.1 L319.0,243.7 L320.0,244.4 L321.0,245.0 L322.0,245.7 L323.0,246.3 L324.0,247.0 L325.0,247.7 L326.0,248.4 L327.0,249.0 L328.0,249.7 L329.0,250.4 L330.0,251.1 L331.0,251.8 L332.0,252.5 L333.0,253.2 L334.0,254.0 L335.0,254.8 L336.0,255.6 L337.0,256.5 L338.0,257.3 L339.0,258.1 L340.0,258.9 L341.0,259.7 L342.0,260.4 L343.0,261.2 L344.0,261.9 L345.0,262.7 L346.0,263.4 L347.0,264.1 L348.0,264.7 L349.0,265.3 L350.0,265.9 L351.0,266.3 L352.0,266.6 L353.0,266.9 L354.0,267.2 L355.0,267.4 L356.0,267.6 L357.0,267.8 L358.0,267.9 L359.0,268.0 L360.0,268.1 L361.0,268.1 L362.0,268.0 L363.0,267.8 L364.0,267.7 L365.0,267.5 L366.0,267.3 L367.0,267.1 L368.0,266.8 L369.0,266.5 L370.0,266.3 L371.0,265.9 L372.0,265.6 L373.0,265.2 L374.0,264.8 L375.0,264.4 L376.0,264.1 L377.0,263.7 L378.0,263.3 L379.0,262.9 L380.0,262.6 L381.0,262.2 L382.0,261.8 L383.0,261.4 L384.0,261.1 L385.0,260.7 L386.0,260.3 L387.0,259.9 L388.0,259.6 L389.0,259.2 L390.0,258.9 L391.0,258.5 L392.0,258.2 L393.0,257.8 L394.0,257.5 L395.0,257.1 L396.0,256.6 L397.0,256.2 L398.0,255.7 L399.0,255.2 L400.0,254.7 L401.0,254.3 L402.0,253.8 L403.0,253.3 L404.0,252.8 L405.0,252.4 L406.0,251.9 L407.0,251.4 L408.0,250.9 L409.0,250.5 L410.0,250.0 L411.0,249.5 L412.0,249.0 L413.0,248.6 L414.0,248.1 L415.0,247.6 L416.0,247.1 L417.0,246.7 L418.0,246.2 L419.0,245.7 L420.0,245.3 L421.0,244.8 L422.0,244.5 L423.0,244.1 L424.0,243.9 L425.0,243.6 L426.0,243.4 L427.0,243.1 L428.0,242.9 L429.0,242.6 L430.0,242.4 L431.0,242.1 L432.0,241.9 L433.0,241.7 L434.0,241.4 L435.0,241.2 L436.0,241.1 L437.0,240.9 L438.0,240.8 L439.0,240.7 L440.0,240.6 L441.0,240.5 L442.0,240.4 L443.0,240.3 L444.0,240.2 L445.0,240.2 L446.0,240.1 L447.0,240.0 L448.0,239.9 L449.0,239.9 L450.0,239.8 L451.0,239.8 L452.0,239.8 L453.0,239.8 L454.0,239.8 L455.0,239.9 L456.0,240.0 L457.0,240.1 L458.0,240.2 L459.0,240.3 L460.0,240.4 L461.0,240.6 L462.0,240.7 L463.0,240.8 L464.0,240.9 L465.0,241.1 L466.0,241.3 L467.0,241.4 L468.0,241.7 L469.0,241.9 L470.0,242.2 L471.0,242.5 L472.0,242.8 L473.0,243.2 L474.0,243.5 L475.0,243.8 L476.0,244.1 L477.0,244.4 L478.0,244.7 L479.0,244.9 L480.0,245.2 L481.0,245.4 L482.0,245.7 L483.0,245.9 L484.0,246.2 L485.0,246.4 L486.0,246.6 L487.0,246.9 L488.0,247.1 L489.0,247.3 L490.0,247.5 L491.0,247.7 L492.0,248.0 L493.0,248.2 L494.0,248.4 L495.0,248.5 L496.0,248.7 L497.0,248.9 L498.0,249.1 L499.0,249.3 L500.0,249.5 L501.0,249.7 L502.0,249.9 L503.0,250.1 L504.0,250.3 L505.0,250.6 L506.0,250.8 L507.0,251.0 L508.0,251.3 L509.0,251.5 L510.0,251.6 L511.0,251.8 L512.0,252.0 L513.0,252.2 L514.0,252.4 L515.0,252.6 L516.0,252.8 L517.0,252.9 L518.0,253.1 L519.0,253.3 L520.0,253.5 L521.0,253.7 L522.0,253.8 L523.0,254.0 L524.0,254.2 L525.0,254.3 L526.0,254.5 L527.0,254.6 L528.0,254.7 L529.0,254.8 L530.0,254.9 L531.0,254.9 L532.0,255.0 L533.0,255.0 L534.0,255.0 L535.0,255.1 L536.0,255.1 L537.0,255.1 L538.0,255.1 L539.0,255.1 L540.0,255.0 L541.0,255.0 L542.0,255.0 L543.0,254.9 L544.0,254.8 L545.0,254.8 L546.0,254.7 L547.0,254.6 L548.0,254.5 L549.0,254.4 L550.0,254.3 L551.0,254.1 L552.0,254.0 L553.0,253.8 L554.0,253.7 L555.0,253.6 L556.0,253.4 L557.0,253.3 L558.0,253.2 L559.0,253.0 L560.0,252.9 L561.0,252.8 L562.0,252.6 L563.0,252.5 L564.0,252.3 L565.0,252.2 L566.0,252.1 L567.0,251.9 L568.0,251.8 L569.0,251.7 L570.0,251.5 L571.0,251.4 L572.0,251.3 L573.0,251.1 L574.0,251.0 L575.0,250.9 L576.0,250.7 L577.0,250.6 L578.0,250.5 L579.0,250.3 L580.0,250.2 L581.0,250.1 L582.0,249.9 L583.0,249.8 L584.0,249.7 L585.0,249.6 L586.0,249.4 L587.0,249.3 L588.0,249.2 L589.0,249.1 L590.0,248.9 L591.0,248.8 L592.0,248.7 L593.0,248.6 L594.0,248.5 L595.0,248.4 L596.0,248.3 L597.0,248.2 L598.0,248.2 L599.0,248.1 L600.0,248.0 L601.0,247.9 L602.0,247.8 L603.0,247.7 L604.0,247.7 L605.0,247.6 L606.0,247.5 L607.0,247.4 L608.0,247.3 L609.0,247.3 L610.0,247.2 L611.0,247.1 L612.0,247.0 L613.0,247.0 L614.0,246.9 L615.0,246.8 L616.0,246.8 L617.0,246.7 L618.0,246.6 L619.0,246.6 L620.0,246.5 L621.0,246.5 L622.0,246.4 L623.0,246.3 L624.0,246.3 L625.0,246.2 L626.0,246.2 L627.0,246.1 L628.0,246.1 L629.0,246.0 L629.1,246.0" fill="none" stroke="#00ff00" stroke-width="2.5" stroke-linejoin="round"/>
<path d="M51.0,307.7 L52.0,307.8 L53.0,307.9 L54.0,307.9 L55.0,307.9 L56.0,307.9 L57.0,307.8 L58.0,307.8 L59.0,307.7 L60.0,307.5 L61.0,307.2 L62.0,306.8 L63.0,306.2 L64.0,305.4 L65.0,304.4 L66.0,303.4 L67.0,302.1 L68.0,300.4 L69.0,298.3 L70.0,295.8 L71.0,293.0 L72.0,289.3 L73.0,284.6 L74.0,279.0 L75.0,272.8 L76.0,265.9 L77.0,258.4 L78.0,250.0 L79.0,240.5 L80.0,229.1 L81.0,217.4 L82.0,205.6 L83.0,193.8 L84.0,182.0 L85.0,170.2 L86.0,158.3 L87.0,146.4 L88.0,134.5 L89.0,122.6 L90.0,110.6 L91.0,98.6 L92.0,86.7 L93.0,74.8 L94.0,63.2 L95.0,54.0 L96.0,46.3 L97.0,40.2 L98.0,35.2 L101.8,24.4 L105.4,20.8 L108.8,27.0 L112.0,37.3 L113.0,41.1 L114.0,45.3 L115.0,50.1 L116.0,55.3 L117.0,60.2 L118.0,64.6 L119.0,69.6 L120.0,75.4 L121.0,81.8 L122.0,88.3 L123.0,94.7 L124.0,100.6 L125.0,105.8 L126.0,110.5 L127.0,115.1 L128.0,119.6 L129.0,124.0 L130.0,128.4 L131.0,132.6 L132.0,136.9 L133.0,141.1 L134.0,145.2 L135.0,149.2 L136.0,153.1 L137.0,156.9 L138.0,160.5 L139.0,164.1 L140.0,167.5 L141.0,170.9 L142.0,174.2 L143.0,177.3 L144.0,180.4 L145.0,183.5 L146.0,186.4 L147.0,189.3 L148.0,192.1 L149.0,194.8 L150.0,197.5 L151.0,200.1 L152.0,202.6 L153.0,205.0 L154.0,207.3 L155.0,209.4 L156.0,211.4 L157.0,213.3 L158.0,215.0 L159.0,216.6 L160.0,218.0 L161.0,219.3 L162.0,220.6 L163.0,221.8 L164.0,222.9 L165.0,224.0 L166.0,225.0 L167.0,226.0 L168.0,226.9 L169.0,227.7 L170.0,228.5 L171.0,229.2 L172.0,229.9 L173.0,230.6 L174.0,231.3 L175.0,231.9 L176.0,232.4 L177.0,232.9 L178.0,233.3 L179.0,233.7 L180.0,234.0 L181.0,234.3 L182.0,234.5 L183.0,234.7 L184.0,234.9 L185.0,235.0 L186.0,235.0 L187.0,235.0 L188.0,235.0 L189.0,234.9 L190.0,234.8 L191.0,234.6 L192.0,234.4 L193.0,234.1 L194.0,233.9 L195.0,233.6 L196.0,233.2 L197.0,232.9 L198.0,232.5 L199.0,232.1 L200.0,231.7 L201.0,231.3 L202.0,230.8 L203.0,230.4 L204.0,229.9 L205.0,229.3 L206.0,228.8 L207.0,228.2 L208.0,227.6 L209.0,226.9 L210.0,226.1 L211.0,225.4 L212.0,224.5 L213.0,223.7 L214.0,222.8 L215.0,221.9 L216.0,221.0 L217.0,220.0 L218.0,219.0 L219.0,218.0 L220.0,217.0 L221.0,215.9 L222.0,214.9 L223.0,213.7 L224.0,212.6 L225.0,211.5 L226.0,210.3 L227.0,209.1 L228.0,207.8 L229.0,206.6 L230.0,205.3 L231.0,204.0 L232.0,202.7 L233.0,201.5 L234.0,200.2 L235.0,199.0 L236.0,197.8 L237.0,196.7 L238.0,195.5 L239.0,194.4 L240.0,193.2 L241.0,192.1 L242.0,191.0 L243.0,189.9 L244.0,188.8 L245.0,187.7 L246.0,186.6 L247.0,185.6 L248.0,184.5 L249.0,183.5 L250.0,182.5 L251.0,181.5 L252.0,180.5 L253.0,179.6 L254.0,178.7 L255.0,177.8 L256.0,176.9 L257.0,176.0 L258.0,175.2 L259.0,174.3 L260.0,173.5 L261.0,172.7 L262.0,171.9 L263.0,171.2 L264.0,170.5 L265.0,169.9 L266.0,169.2 L267.0,168.6 L268.0,168.1 L269.0,167.5 L270.0,167.0 L271.0,166.5 L272.0,166.1 L273.0,165.6 L274.0,165.3 L275.0,165.0 L276.0,164.7 L277.0,164.5 L278.0,164.3 L279.0,164.2 L280.0,164.1 L281.0,164.1 L282.0,164.1 L283.0,164.2 L284.0,164.3 L285.0,164.4 L286.0,164.6 L287.0,164.8 L288.0,165.1 L289.0,165.4 L290.0,165.7 L291.0,166.1 L292.0,166.5 L293.0,166.9 L294.0,167.4 L295.0,167.8 L296.0,168.3 L297.0,168.8 L298.0,169.3 L299.0,169.8 L300.0,170.3 L301.0,170.9 L302.0,171.5 L303.0,172.1 L304.0,172.8 L305.0,173.5 L306.0,174.3 L307.0,175.1 L308.0,175.9 L309.0,176.7 L310.0,177.5 L311.0,178.4 L312.0,179.3 L313.0,180.2 L314.0,181.0 L315.0,181.9 L316.0,182.8 L317.0,183.7 L318.0,184.6 L319.0,185.5 L320.0,186.3 L321.0,187.2 L322.0,188.0 L323.0,188.8 L324.0,189.6 L325.0,190.4 L326.0,191.2 L327.0,192.0 L328.0,192.8 L329.0,193.5 L330.0,194.3 L331.0,195.0 L332.0,195.8 L333.0,196.5 L334.0,197.2 L335.0,197.9 L336.0,198.6 L337.0,199.3 L338.0,200.0 L339.0,200.6 L340.0,201.2 L341.0,201.9 L342.0,202.4 L343.0,203.0 L344.0,203.5 L345.0,203.9 L346.0,204.4 L347.0,204.7 L348.0,205.1 L349.0,205.4 L350.0,205.7 L351.0,206.0 L352.0,206.3 L353.0,206.6 L354.0,206.8 L355.0,207.1 L356.0,207.3 L357.0,207.5 L358.0,207.7 L359.0,207.8 L360.0,207.9 L361.0,208.0 L362.0,208.0 L363.0,208.0 L364.0,208.0 L365.0,208.0 L366.0,207.9 L367.0,207.8 L368.0,207.8 L369.0,207.7 L370.0,207.5 L371.0,207.4 L372.0,207.3 L373.0,207.2 L374.0,207.0 L375.0,206.9 L376.0,206.8 L377.0,206.6 L378.0,206.4 L379.0,206.2 L380.0,206.0 L381.0,205.7 L382.0,205.4 L383.0,205.1 L384.0,204.7 L385.0,204.4 L386.0,204.0 L387.0,203.6 L388.0,203.3 L389.0,202.9 L390.0,202.5 L391.0,202.1 L392.0,201.7 L393.0,201.3 L394.0,200.8 L395.0,200.4 L396.0,200.0 L397.0,199.5 L398.0,199.1 L399.0,198.6 L400.0,198.2 L401.0,197.7 L402.0,197.2 L403.0,196.8 L404.0,196.3 L405.0,195.8 L406.0,195.4 L407.0,194.9 L408.0,194.4 L409.0,194.0 L410.0,193.5 L411.0,193.0 L412.0,192.6 L413.0,192.1 L414.0,191.7 L415.0,191.2 L416.0,190.8 L417.0,190.3 L418.0,189.9 L419.0,189.4 L420.0,189.0 L421.0,188.6 L422.0,188.1 L423.0,187.7 L424.0,187.3 L425.0,186.9 L426.0,186.5 L427.0,186.1 L428.0,185.7 L429.0,185.4 L430.0,185.0 L431.0,184.6 L432.0,184.3 L433.0,184.0 L434.0,183.7 L435.0,183.4 L436.0,183.2 L437.0,182.9 L438.0,182.7 L439.0,182.5 L440.0,182.3 L441.0,182.1 L442.0,181.9 L443.0,181.8 L444.0,181.6 L445.0,181.5 L446.0,181.4 L447.0,181.3 L448.0,181.3 L449.0,181.2 L450.0,181.2 L451.0,181.2 L452.0,181.2 L453.0,181.3 L454.0,181.3 L455.0,181.4 L456.0,181.4 L457.0,181.5 L458.0,181.6 L459.0,181.8 L460.0,181.9 L461.0,182.1 L462.0,182.3 L463.0,182.5 L464.0,182.7 L465.0,182.9 L466.0,183.1 L467.0,183.4 L468.0,183.6 L469.0,183.8 L470.0,184.0 L471.0,184.3 L472.0,184.5 L473.0,184.7 L474.0,185.0 L475.0,185.2 L476.0,185.4 L477.0,185.7 L478.0,185.9 L479.0,186.2 L480.0,186.4 L481.0,186.7 L482.0,186.9 L483.0,187.2 L484.0,187.4 L485.0,187.7 L486.0,187.9 L487.0,188.2 L488.0,188.4 L489.0,188.7 L490.0,188.9 L491.0,189.2 L492.0,189.5 L493.0,189.7 L494.0,190.0 L495.0,190.3 L496.0,190.7 L497.0,191.0 L498.0,191.3 L499.0,191.6 L500.0,192.0 L501.0,192.3 L502.0,192.6 L503.0,192.9 L504.0,193.2 L505.0,193.5 L506.0,193.8 L507.0,194.0 L508.0,194.3 L509.0,194.5 L510.0,194.8 L511.0,195.0 L512.0,195.2 L513.0,195.4 L514.0,195.6 L515.0,195.8 L516.0,196.0 L517.0,196.1 L518.0,196.3 L519.0,196.5 L520.0,196.6 L521.0,196.8 L522.0,196.9 L523.0,197.1 L524.0,197.2 L525.0,197.3 L526.0,197.4 L527.0,197.5 L528.0,197.6 L529.0,197.6 L530.0,197.7 L531.0,197.7 L532.0,197.7 L533.0,197.7 L534.0,197.7 L535.0,197.7 L536.0,197.7 L537.0,197.6 L538.0,197.6 L539.0,197.6 L540.0,197.6 L541.0,197.5 L542.0,197.5 L543.0,197.4 L544.0,197.4 L545.0,197.3 L546.0,197.2 L547.0,197.2 L548.0,197.1 L549.0,197.0 L550.0,197.0 L551.0,196.9 L552.0,196.8 L553.0,196.8 L554.0,196.7 L555.0,196.6 L556.0,196.5 L557.0,196.4 L558.0,196.3 L559.0,196.2 L560.0,196.1 L561.0,196.0 L562.0,195.9 L563.0,195.8 L564.0,195.7 L565.0,195.6 L566.0,195.5 L567.0,195.3 L568.0,195.2 L569.0,195.1 L570.0,194.9 L571.0,194.7 L572.0,194.5 L573.0,194.3 L574.0,194.1 L575.0,193.8 L576.0,193.6 L577.0,193.4 L578.0,193.1 L579.0,192.9 L580.0,192.6 L581.0,192.4 L582.0,192.2 L583.0,192.0 L584.0,191.7 L585.0,191.5 L586.0,191.4 L587.0,191.2 L588.0,191.0 L589.0,190.9 L590.0,190.7 L591.0,190.6 L592.0,190.5 L593.0,190.3 L594.0,190.2 L595.0,190.1 L596.0,190.0 L597.0,189.8 L598.0,189.7 L599.0,189.6 L600.0,189.5 L601.0,189.4 L602.0,189.3 L603.0,189.2 L604.0,189.2 L605.0,189.1 L606.0,189.0 L607.0,188.9 L608.0,188.9 L609.0,188.8 L610.0,188.8 L611.0,188.7 L612.0,188.6 L613.0,188.6 L614.0,188.6 L615.0,188.5 L616.0,188.5 L617.0,188.5 L618.0,188.4 L619.0,188.4 L620.0,188.4 L621.0,188.4 L622.0,188.4 L623.0,188.4 L624.0,188.4 L625.0,188.4 L626.0,188.4 L627.0,188.4 L628.0,188.4 L629.0,188.4 L629.1,188.4" fill="none" stroke="#0000ff" stroke-width="2.5" stroke-linejoin="round"/>
</g>
<g stroke="#000" stroke-width="2.1" fill="none" stroke-linecap="butt">
<rect x="51.1" y="16.6" width="578.0" height="465.9"/>
<line x1="41.900000000000006" y1="482.5" x2="51.1" y2="482.5"/>
<line x1="41.900000000000006" y1="366.0" x2="51.1" y2="366.0"/>
<line x1="41.900000000000006" y1="249.6" x2="51.1" y2="249.6"/>
<line x1="41.900000000000006" y1="133.1" x2="51.1" y2="133.1"/>
<line x1="41.900000000000006" y1="16.6" x2="51.1" y2="16.6"/>
<line x1="46.1" y1="424.3" x2="51.1" y2="424.3"/>
<line x1="46.1" y1="307.8" x2="51.1" y2="307.8"/>
<line x1="46.1" y1="191.3" x2="51.1" y2="191.3"/>
<line x1="46.1" y1="74.8" x2="51.1" y2="74.8"/>
<line x1="66.9" y1="482.5" x2="66.9" y2="491.5"/>
<line x1="227.5" y1="482.5" x2="227.5" y2="491.5"/>
<line x1="388.2" y1="482.5" x2="388.2" y2="491.5"/>
<line x1="548.8" y1="482.5" x2="548.8" y2="491.5"/>
<line x1="147.2" y1="482.5" x2="147.2" y2="487.5"/>
<line x1="307.9" y1="482.5" x2="307.9" y2="487.5"/>
<line x1="468.5" y1="482.5" x2="468.5" y2="487.5"/>
<line x1="629.1" y1="482.5" x2="629.1" y2="487.5"/>
</g>
<rect x="384.4" y="16.6" width="244.70000000000005" height="55.1" fill="#fff" stroke="#6a6a6a" stroke-width="1.3"/>
<line x1="51.1" y1="16.6" x2="629.1" y2="16.6" stroke="#000" stroke-width="2.1"/>
<line x1="629.1" y1="16.6" x2="629.1" y2="482.5" stroke="#000" stroke-width="2.1"/>
<circle cx="410.2" cy="31.8" r="5.6" fill="#000000"/>
<path d="M456.5,24.2 L463.7,36.4 L449.3,36.4Z" fill="#ff0000"/>
<path d="M498.0,26.7h10.2v10.2h-10.2Z" fill="#00ff00"/>
<path d="M549.4,25.0 L551.0,30.0 L556.2,30.0 L552.0,33.0 L553.6,38.0 L549.4,35.0 L545.2,38.0 L546.8,33.0 L542.6,30.0 L547.8,30.0Z" fill="#0000ff"/>
<line x1="387.65000000000003" y1="57.45" x2="433.54999999999995" y2="57.45" stroke="#000000" stroke-width="2.7" stroke-linecap="round"/>
<line x1="439.25" y1="57.45" x2="485.54999999999995" y2="57.45" stroke="#ff0000" stroke-width="2.7" stroke-linecap="round"/>
<line x1="491.25" y1="57.45" x2="537.25" y2="57.45" stroke="#00ff00" stroke-width="2.7" stroke-linecap="round"/>
<line x1="543.35" y1="57.45" x2="589.65" y2="57.45" stroke="#0000ff" stroke-width="2.7" stroke-linecap="round"/>
<text x="578.2" y="38.9" font-size="21" text-anchor="start" font-family="Liberation Sans, sans-serif" fill="#000" >exp</text>
<text x="595.0" y="64.0" font-size="21" text-anchor="start" font-family="Liberation Sans, sans-serif" fill="#000" >DP</text>
<text x="35.7" y="490.1" font-size="24" text-anchor="end" font-family="Liberation Sans, sans-serif" fill="#000" >0</text>
<text x="35.7" y="373.625" font-size="24" text-anchor="end" font-family="Liberation Sans, sans-serif" fill="#000" >1</text>
<text x="35.7" y="257.15000000000003" font-size="24" text-anchor="end" font-family="Liberation Sans, sans-serif" fill="#000" >2</text>
<text x="35.7" y="140.67500000000004" font-size="24" text-anchor="end" font-family="Liberation Sans, sans-serif" fill="#000" >3</text>
<text x="35.7" y="24.200000000000024" font-size="24" text-anchor="end" font-family="Liberation Sans, sans-serif" fill="#000" >4</text>
<text x="67.10000000000001" y="516.4" font-size="24" text-anchor="middle" font-family="Liberation Sans, sans-serif" fill="#000" >2</text>
<text x="227.73999999999998" y="516.4" font-size="24" text-anchor="middle" font-family="Liberation Sans, sans-serif" fill="#000" >4</text>
<text x="388.37999999999994" y="516.4" font-size="24" text-anchor="middle" font-family="Liberation Sans, sans-serif" fill="#000" >6</text>
<text x="549.02" y="516.4" font-size="24" text-anchor="middle" font-family="Liberation Sans, sans-serif" fill="#000" >8</text>
<text x="304.9" y="525.1" font-size="28.5" text-anchor="start" font-family="Liberation Sans, sans-serif" fill="#000" letter-spacing="1.2">r,</text>
<text x="348.9" y="525.1" font-size="28.5" text-anchor="end" font-family="Liberation Sans, sans-serif" fill="#000" >A</text>
<circle cx="339.5" cy="502.1" r="2.3" fill="none" stroke="#000" stroke-width="1.4"/>
<text transform="translate(28.9,195.8) rotate(-90)" font-size="28.8" text-anchor="middle" font-family="Liberation Sans, sans-serif" fill="#000">g(r)</text>
<text x="358" y="134.8" font-size="34" text-anchor="middle" font-family="Liberation Sans, sans-serif" fill="#000" >liquid Cu</text>
<text x="623.6" y="221.1" font-size="23.8" text-anchor="end" font-family="Liberation Sans, sans-serif" fill="#000" word-spacing="1">T = 1873 K</text>
<text x="623.6" y="281.4" font-size="23.8" text-anchor="end" font-family="Liberation Sans, sans-serif" fill="#000" word-spacing="1">T = 1773 K</text>
<text x="623.0" y="341.0" font-size="23.8" text-anchor="end" font-family="Liberation Sans, sans-serif" fill="#000" word-spacing="1">T = 1573 K</text>
<text x="624.1" y="398.3" font-size="23.8" text-anchor="end" font-family="Liberation Sans, sans-serif" fill="#000" word-spacing="1">T = 1423 K</text>
<text x="603" y="468.2" font-size="28.5" text-anchor="middle" font-family="Liberation Sans, sans-serif" fill="#000" >(b)</text>
</svg>
</body></html>
